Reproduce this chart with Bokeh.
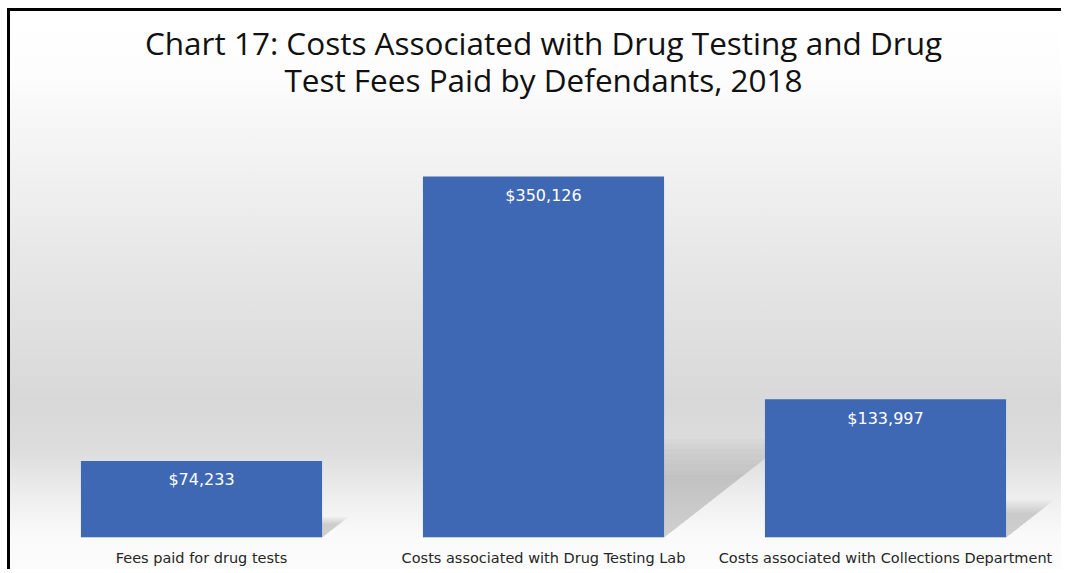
from bokeh.plotting import figure
from bokeh.models import FactorRange, Range1d, ColumnDataSource, LabelSet, Title
from bokeh.core.properties import value
from bokeh.embed import file_html
from bokeh.resources import INLINE

# ---- data ----
categories = ["Fees paid for drug tests",
              "Costs associated with Drug Testing Lab",
              "Costs associated with Collections Department"]
values = [74233, 350126, 133997]
value_labels = ["${:,}".format(v) for v in values]
title_lines = ["Chart 17: Costs Associated with Drug Testing and Drug",
               "Test Fees Paid by Defendants, 2018"]

# ---- style constants ----
BAR_W = 0.705
vmax = max(values)

p = figure(width=1054, height=561, title=None,
           x_range=FactorRange(*categories, range_padding=0),
           y_range=Range1d(0, vmax * 1.183),
           output_backend="svg", toolbar_location=None,
           min_border_left=20, min_border_right=8,
           min_border_top=99, min_border_bottom=35)

p.background_fill_color = None
p.border_fill_color = None
p.outline_line_color = None
p.styles = {
    "margin-left": "7px",
    "margin-top": "8px",
    "background": "linear-gradient(to bottom, #ffffff 0%, #fdfdfd 12%, #f7f7f7 19%, "
                  "#e8e8e8 43%, #d8d8d8 70%, #dddddd 79%, #eeeeee 87%, #fafafa 94%, #fcfcfc 100%)",
    "border-left": "3px solid #000000",
    "border-top": "3px solid #000000",
}

# shadows (perspective floor shadows cast up-right from each bar), layered for softness
for scale in [1.16, 1.10, 1.04, 0.98, 0.92, 0.86, 0.80, 0.74]:
    xs, ys = [], []
    for c, v in zip(categories, values):
        dx = 0.317 * (v / vmax) * scale
        dy = 0.235 * v * scale
        xs.append([(c, -BAR_W / 2), (c, BAR_W / 2), (c, BAR_W / 2 + dx), (c, -BAR_W / 2 + dx)])
        ys.append([0, 0, dy, dy])
    p.patches(xs=xs, ys=ys, fill_color="#6a6a6a", fill_alpha=0.045, line_color=None)

src = ColumnDataSource(dict(cat=categories, val=values, lab=value_labels))
p.vbar(x="cat", top="val", width=BAR_W, source=src,
       fill_color="#3F68B4", line_color=None)

labels = LabelSet(x="cat", y="val", text="lab", source=src,
                  y_offset=-19, text_align="center", text_baseline="middle",
                  text_color="#ffffff", text_font=value("DejaVu Sans"), text_font_size="16px")
p.add_layout(labels)

# title: two centred lines (added closest-to-frame first)
standoffs = [20, -36]
for line, so in zip(reversed(title_lines), standoffs):
    t = Title(text=line, align="center", text_font="Open Sans", text_font_size="31.5px",
              text_font_style="normal", text_color="#111111",
              standoff=so, offset=0)
    p.add_layout(t, "above")

p.yaxis.visible = False
p.xgrid.grid_line_color = None
p.ygrid.grid_line_color = None
p.xaxis.axis_line_color = None
p.xaxis.major_tick_line_color = None
p.xaxis.minor_tick_line_color = None
p.xaxis.major_label_standoff = 6
p.xaxis.major_label_text_font = "DejaVu Sans"
p.xaxis.major_label_text_font_size = "14.5px"
p.xaxis.major_label_text_color = "#262626"

open("out.html", "w").write(file_html(p, INLINE))
